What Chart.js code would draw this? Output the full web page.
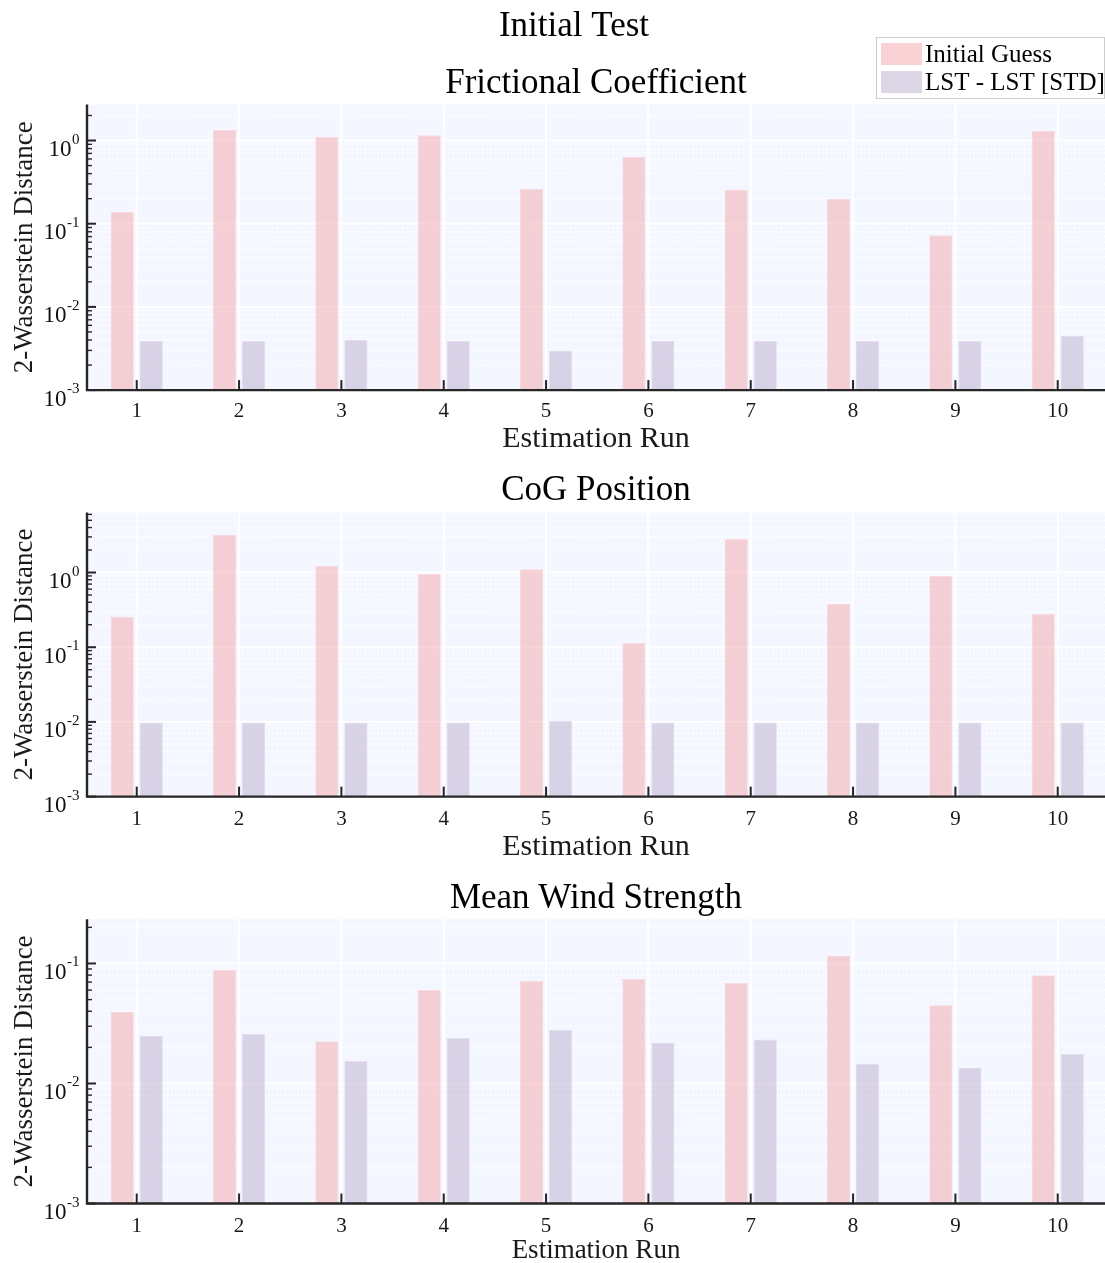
<!DOCTYPE html>
<html>
<head>
<meta charset="utf-8">
<title>Initial Test</title>
<script src="https://cdn.jsdelivr.net/npm/chart.js@4.4.1/dist/chart.umd.min.js"></script>
<style>
  html, body { margin: 0; padding: 0; background: #ffffff; overflow: hidden; }
  #wrap { position: relative; width: 1105px; height: 1263px; }
  .panel { position: absolute; left: 0; width: 1105px; }
  canvas { display: block; }
</style>
</head>
<body>
<div id="wrap">
  <div class="panel" style="top:0px;height:460px"><canvas id="friction"></canvas></div>
  <div class="panel" style="top:460px;height:405px"><canvas id="cog"></canvas></div>
  <div class="panel" style="top:865px;height:398px"><canvas id="wind"></canvas></div>
</div>
<script>
// ---- data -------------------------------------------------------------
const runs = [1, 2, 3, 4, 5, 6, 7, 8, 9, 10];
const seriesNames = ['Initial Guess', 'LST - LST [STD]'];

const frictionInitial = [0.138, 1.34, 1.10, 1.16, 0.261, 0.634, 0.254, 0.200, 0.0726, 1.30];
const frictionLst     = [0.0039, 0.0039, 0.0040, 0.0039, 0.0030, 0.0039, 0.0039, 0.0039, 0.0039, 0.0045];

const cogInitial = [0.256, 3.21, 1.23, 0.955, 1.11, 0.114, 2.81, 0.380, 0.900, 0.278];
const cogLst     = [0.0098, 0.0098, 0.0098, 0.0098, 0.0103, 0.0098, 0.0098, 0.0098, 0.0098, 0.0098];

const windInitial = [0.0396, 0.0883, 0.0225, 0.0601, 0.0715, 0.0743, 0.0688, 0.116, 0.0449, 0.0797];
const windLst     = [0.0249, 0.0259, 0.0154, 0.0239, 0.0279, 0.0218, 0.0233, 0.0145, 0.0135, 0.0176];

const yAxisTitle = '2-Wasserstein Distance';
const xAxisTitle = 'Estimation Run';
const figureTitle = 'Initial Test';

// ---- style ------------------------------------------------------------
const SERIF = "'Liberation Serif', 'Times New Roman', Times, serif";
const PLOT_BG = 'rgb(244,247,255)';
const AXIS = '#262626';
const TEXT = '#111111';
const GUESS_FILL = 'rgba(242,165,170,0.5)';
const GUESS_EDGE = 'rgba(250,214,218,0.9)';
const LST_FILL = 'rgba(188,173,206,0.5)';
const LST_EDGE = 'rgba(224,218,236,0.9)';

// x range chosen so run 1 and run 10 sit just inside the axes
const X_MIN = 0.514;
const X_MAX = 10.462;

// grid, spines, tick marks, decade labels, titles and legend
const panelDecor = {
  id: 'panelDecor',
  beforeDatasetsDraw(chart) {
    const { ctx, chartArea: a } = chart;
    const xs = chart.scales.x, ys = chart.scales.y;
    ctx.save();
    ctx.fillStyle = PLOT_BG;
    ctx.fillRect(a.left, a.top, a.right - a.left, a.bottom - a.top);

    // minor log lines (dotted)
    ctx.strokeStyle = 'rgba(255,255,255,0.95)';
    ctx.lineWidth = 1.6;
    ctx.setLineDash([2, 2.2]);
    for (let e = -3; Math.pow(10, e) <= ys.max; e++) {
      for (let m = 2; m <= 9; m++) {
        const v = m * Math.pow(10, e);
        if (v > ys.max) break;
        const py = ys.getPixelForValue(v);
        ctx.beginPath(); ctx.moveTo(a.left, py); ctx.lineTo(a.right, py); ctx.stroke();
      }
    }
    // decade lines (solid)
    ctx.setLineDash([]);
    ctx.strokeStyle = '#ffffff';
    ctx.lineWidth = 2;
    for (let e = -3; Math.pow(10, e) <= ys.max; e++) {
      const py = ys.getPixelForValue(Math.pow(10, e));
      ctx.beginPath(); ctx.moveTo(a.left, py); ctx.lineTo(a.right, py); ctx.stroke();
    }
    // vertical lines at each run
    runs.forEach(r => {
      const px = xs.getPixelForValue(r);
      ctx.beginPath(); ctx.moveTo(px, a.top); ctx.lineTo(px, a.bottom); ctx.stroke();
    });
    ctx.restore();
  },
  afterDatasetsDraw(chart) {
    const { ctx, chartArea: a } = chart;
    const xs = chart.scales.x, ys = chart.scales.y;
    ctx.save();
    ctx.strokeStyle = AXIS;
    // spines
    ctx.lineWidth = 2.4;
    ctx.beginPath();
    ctx.moveTo(a.left, a.top);
    ctx.lineTo(a.left, a.bottom);
    ctx.lineTo(a.right, a.bottom);
    ctx.stroke();
    // y tick marks (inward)
    for (let e = -3; Math.pow(10, e) <= ys.max; e++) {
      for (let m = 1; m <= 9; m++) {
        const v = m * Math.pow(10, e);
        if (v > ys.max) break;
        const py = ys.getPixelForValue(v);
        ctx.lineWidth = m === 1 ? 2 : 1.4;
        ctx.beginPath(); ctx.moveTo(a.left, py); ctx.lineTo(a.left + (m === 1 ? 9 : 5), py); ctx.stroke();
      }
    }
    // x tick marks (inward)
    ctx.lineWidth = 2;
    runs.forEach(r => {
      const px = xs.getPixelForValue(r);
      ctx.beginPath(); ctx.moveTo(px, a.bottom); ctx.lineTo(px, a.bottom - 10); ctx.stroke();
    });
    // decade labels 10^n
    ctx.fillStyle = TEXT;
    ctx.textBaseline = 'alphabetic';
    ctx.textAlign = 'left';
    for (let e = -3; Math.pow(10, e) <= ys.max; e++) {
      const py = ys.getPixelForValue(Math.pow(10, e));
      const exp = e < 0 ? '-' + (-e) : String(e);
      ctx.font = '23px ' + SERIF;
      const wBase = ctx.measureText('10').width;
      ctx.font = '15px ' + SERIF;
      const wExp = ctx.measureText(exp).width;
      const x0 = a.left - 8 - wBase - wExp;
      ctx.font = '23px ' + SERIF;
      ctx.fillText('10', x0, py + 15.5);
      ctx.font = '15px ' + SERIF;
      ctx.fillText(exp, x0 + wBase + 0.5, py + 3);
    }
    ctx.restore();
  },
  afterDraw(chart, args, opts) {
    const { ctx } = chart;
    ctx.save();
    ctx.fillStyle = '#000000';
    ctx.textBaseline = 'alphabetic';
    ctx.textAlign = 'center';
    ctx.font = '35px ' + SERIF;
    (opts.titles || []).forEach(t => ctx.fillText(t.text, t.x, t.y));
    if (opts.legend) {
      ctx.fillStyle = '#ffffff';
      ctx.fillRect(876.5, 37.5, 228, 61);
      ctx.strokeStyle = '#cccccc';
      ctx.lineWidth = 1;
      ctx.strokeRect(876.5, 37.5, 228, 61);
      const fills = [GUESS_FILL, LST_FILL];
      const rows = [43, 71];
      ctx.textAlign = 'left';
      ctx.font = '25px ' + SERIF;
      seriesNames.forEach((name, i) => {
        ctx.fillStyle = fills[i];
        ctx.fillRect(881, rows[i], 41, 22);
        ctx.fillStyle = '#000000';
        ctx.fillText(name, 925, rows[i] + 19);
      });
    }
    ctx.restore();
  }
};

function makePanel(id, p) {
  return new Chart(document.getElementById(id), {
    type: 'bar',
    data: {
      labels: runs,
      datasets: [
        { label: seriesNames[0], data: p.initial, backgroundColor: GUESS_FILL, borderColor: GUESS_EDGE, borderWidth: 1 },
        { label: seriesNames[1], data: p.lst, backgroundColor: LST_FILL, borderColor: LST_EDGE, borderWidth: 1 }
      ]
    },
    options: {
      responsive: true,
      maintainAspectRatio: false,
      animation: false,
      devicePixelRatio: 1,
      datasets: { bar: { categoryPercentage: 0.567, barPercentage: 0.8 } },
      layout: { padding: { top: p.top, left: 0, right: 0, bottom: 0 } },
      plugins: {
        legend: { display: false },
        title: { display: false },
        tooltip: { enabled: false },
        panelDecor: { titles: p.titles, legend: !!p.legend }
      },
      scales: {
        x: {
          type: 'linear',
          min: X_MIN,
          max: X_MAX,
          offset: false,
          grid: { display: false, drawTicks: false },
          border: { display: false },
          afterBuildTicks(s) { s.ticks = runs.map(v => ({ value: v })); },
          afterFit(s) { s.height = p.xHeight; },
          ticks: {
            color: '#1a1a1a',
            font: { family: SERIF, size: 21, lineHeight: 1 },
            padding: p.tickPad,
            maxRotation: 0,
            autoSkip: false,
            callback: v => String(v)
          },
          title: {
            display: true,
            text: xAxisTitle,
            color: '#1a1a1a',
            font: { family: SERIF, size: p.xTitleSize, lineHeight: 1 },
            padding: { top: 0, bottom: p.xTitlePad }
          }
        },
        y: {
          type: 'logarithmic',
          min: 1e-3,
          max: p.max,
          grid: { display: false, drawTicks: false },
          border: { display: false },
          ticks: { display: false },
          afterFit(s) { s.width = 87; },
          title: {
            display: true,
            text: yAxisTitle,
            color: '#1a1a1a',
            font: { family: SERIF, size: 27, lineHeight: 1 },
            padding: { top: 11, bottom: 0 }
          }
        }
      }
    },
    plugins: [panelDecor]
  });
}

makePanel('friction', {
  initial: frictionInitial, lst: frictionLst, max: 2.71,
  top: 104.5, xHeight: 69.9, tickPad: 11, xTitleSize: 30, xTitlePad: 6,
  titles: [{ text: figureTitle, x: 574, y: 35.5 }, { text: 'Frictional Coefficient', x: 596, y: 93 }],
  legend: true
});
makePanel('cog', {
  initial: cogInitial, lst: cogLst, max: 6.36,
  top: 52.5, xHeight: 68.4, tickPad: 12, xTitleSize: 30, xTitlePad: 3,
  titles: [{ text: 'CoG Position', x: 596, y: 40 }]
});
makePanel('wind', {
  initial: windInitial, lst: windLst, max: 0.2334,
  top: 54.3, xHeight: 59.5, tickPad: 12, xTitleSize: 27, xTitlePad: -1,
  titles: [{ text: 'Mean Wind Strength', x: 596, y: 43 }]
});
</script>
</body>
</html>
